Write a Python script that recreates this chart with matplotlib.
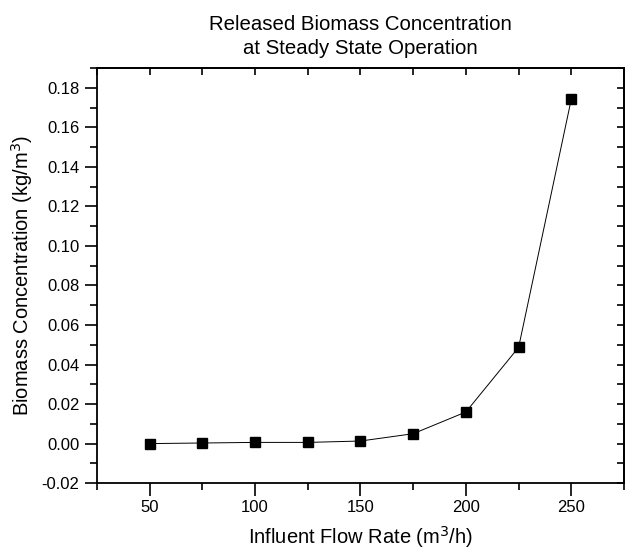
import matplotlib
matplotlib.use("Agg")
import matplotlib.pyplot as plt
from matplotlib.ticker import MultipleLocator, FormatStrFormatter

flow_rate = [50, 75, 100, 125, 150, 175, 200, 225, 250]
biomass = [0.0000, 0.0003, 0.0006, 0.0006, 0.0013, 0.0050, 0.0160, 0.0487, 0.1744]

plt.rcParams['font.family'] = ['Liberation Sans', 'DejaVu Sans']

fig = plt.figure(figsize=(6.25, 5.49), dpi=100)
ax = fig.add_axes([0.155, 0.120, 0.8435, 0.756])

ax.plot(flow_rate, biomass, color='black', linewidth=0.7, marker='s',
        markersize=7.5, markerfacecolor='black', markeredgecolor='black')

ax.set_xlim(25, 275)
ax.set_ylim(-0.02, 0.19)
ax.xaxis.set_major_locator(MultipleLocator(50))
ax.xaxis.set_minor_locator(MultipleLocator(25))
ax.yaxis.set_major_locator(MultipleLocator(0.02))
ax.yaxis.set_minor_locator(MultipleLocator(0.01))
ax.yaxis.set_major_formatter(FormatStrFormatter('%.2f'))

ax.tick_params(which='major', direction='out', length=9, width=1.2, labelsize=12)
ax.tick_params(which='minor', direction='out', length=5, width=1.2)
for s in ax.spines.values():
    s.set_linewidth(1.3)

top = ax.secondary_xaxis('top')
top.xaxis.set_major_locator(MultipleLocator(25))
top.tick_params(which='major', direction='in', length=5, width=1.2, labeltop=False)
top.spines['top'].set_linewidth(1.3)
right = ax.secondary_yaxis('right')
right.yaxis.set_major_locator(MultipleLocator(0.01))
right.tick_params(which='major', direction='in', length=5, width=1.2, labelright=False)
right.spines['right'].set_linewidth(1.3)

ax.set_title("Released Biomass Concentration\nat Steady State Operation",
             fontsize=14.7, pad=10, linespacing=1.35)
ax.set_xlabel("Influent Flow Rate (m$^3$/h)", fontsize=14.5, labelpad=6)
ax.set_ylabel("Biomass Concentration (kg/m$^3$)", fontsize=14.5, labelpad=5)

fig.savefig("out.png", dpi=100)
